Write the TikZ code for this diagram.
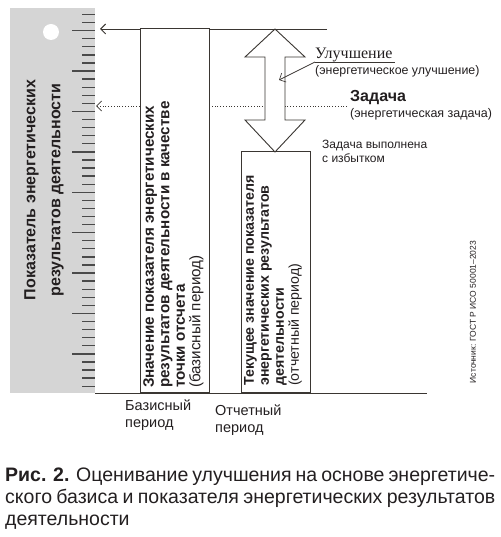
\documentclass[tikz,border=0pt]{standalone}
\usepackage{fontspec}
\setmainfont{Liberation Sans}
\newfontfamily\titleserif{Liberation Serif}
\usetikzlibrary{arrows.meta,positioning}
\definecolor{rulergray}{HTML}{D5D5D5}
\definecolor{tickgray}{HTML}{4A4A4A}
\definecolor{inkline}{HTML}{3A3632}
\definecolor{inktext}{HTML}{231F20}

\tikzset{
  frame/.style={draw=inkline,line width=0.9pt},
  boxtext/.style={rotate=90,align=left,anchor=north west,inner sep=0pt,
    text=inktext,font=\fontsize{15.2}{15.5}\selectfont\bfseries},
  note/.style={anchor=base west,inner sep=0pt,text=inktext,
    font=\fontsize{12.4}{14}\selectfont},
  barb/.style={-{Straight Barb[length=5pt,width=10pt]}}
}

\begin{document}
\begin{tikzpicture}[x=1pt,y=-1pt]
  \useasboundingbox (0,0) rectangle (500,537);
  % ruler
  \fill[rulergray] (10,8) rectangle (95,393);
  \fill[white] (51,32) circle (8);
  \foreach \k in {0,...,46}{
    \pgfmathsetmacro\ty{14.5+8.08*\k}
    \pgfmathsetmacro\tx{mod(\k,5)==2 ? 72 : 82}
    \draw[tickgray,line width=1.3pt] (\tx,\ty) -- (95,\ty);
  }
  \node[rotate=90,align=center,inner sep=0pt,text=inktext,
    font=\fontsize{16}{25}\selectfont\bfseries] (axis) at (44,190)
    {Показатель энергетических\\результатов деятельности};

  % reference levels
  \coordinate (toptip) at (100,29);
  \coordinate (topend) at (327,29);
  \coordinate (dottip) at (96,106);
  \coordinate (dotend) at (347,106);
  \draw[frame,barb] (topend) -- (toptip);
  \draw[inkline,line width=0.8pt,dotted,barb] (dotend) -- (dottip);
  \draw[frame] (95,393) coordinate (base0) -- (427,393) coordinate (base1);

  % periods
  \node[frame,fill=white,anchor=south west,inner sep=0pt,
    minimum width=69pt,minimum height=364pt] (basebox) at (140,393) {};
  \node[frame,fill=white,anchor=south west,inner sep=0pt,
    minimum width=69pt,minimum height=241pt] (curbox) at (241,393) {};
  \node[boxtext] (basetxt) at (143,388)
    {Значение показателя энергетических\\результатов деятельности в качестве\\точки отсчета\\{\mdseries(базисный период)}};
  \node[boxtext,font=\fontsize{14.2}{15}\selectfont\bfseries] (curtxt) at (244,386)
    {Текущее значение показателя\\энергетических результатов\\деятельности\\{\mdseries(отчетный период)}};

  % improvement arrow
  \draw[frame,fill=white] (275,29) -- (305,57) -- (285,57) -- (285,120)
    -- (305,120) -- (275,152) -- (245,120) -- (265,120) -- (265,57)
    -- (245,57) -- cycle;
  \coordinate (shaft) at (279,80);

  \node[anchor=base west,inner sep=0pt,text=inktext,
    font=\fontsize{16}{18}\titleserif] (impr) at (315,59) {Улучшение};
  \draw[frame,line width=0.7pt] ([yshift=-3pt]impr.base west) -- ([yshift=-3pt,xshift=2pt]impr.base east);
  \draw[frame,line width=0.7pt,barb] ([yshift=-3pt]impr.base west) -- (shaft);
  \node[note] (imprsub) at (315,75) {(энергетическое улучшение)};
  \node[note,font=\fontsize{16}{17}\selectfont\bfseries] (goal) at (350,102) {Задача};
  \node[note,font=\fontsize{12.5}{15}\selectfont] (goalsub) at (350,118) {(энергетическая задача)};
  \node[note,align=left,anchor=north west,font=\fontsize{12}{14}\selectfont] (over) at (322,140)
    {Задача выполнена\\с избытком};

  \node[note,align=left,anchor=north west,font=\fontsize{14.5}{17}\selectfont]
    (baselbl) at (125,400) {Базисный\\период};
  \node[note,align=left,anchor=north west,font=\fontsize{14.5}{17}\selectfont]
    (curlbl) at (215,405) {Отчетный\\период};

  \node[rotate=90,inner sep=0pt,text=inktext,font=\fontsize{8.5}{10}\selectfont]
    (src) at (473,312) {Источник: ГОСТ Р ИСО 50001–2023};

  \node[anchor=north west,text width=490pt,align=justify,inner sep=0pt,
    text=inktext,font=\fontsize{19.5}{22}\selectfont] (caption) at (5,468)
    {\textbf{Рис. 2.} Оценивание улучшения на основе энергетиче-\linebreak
     ского базиса и показателя энергетических результатов\linebreak
     деятельности};
\end{tikzpicture}
\end{document}
